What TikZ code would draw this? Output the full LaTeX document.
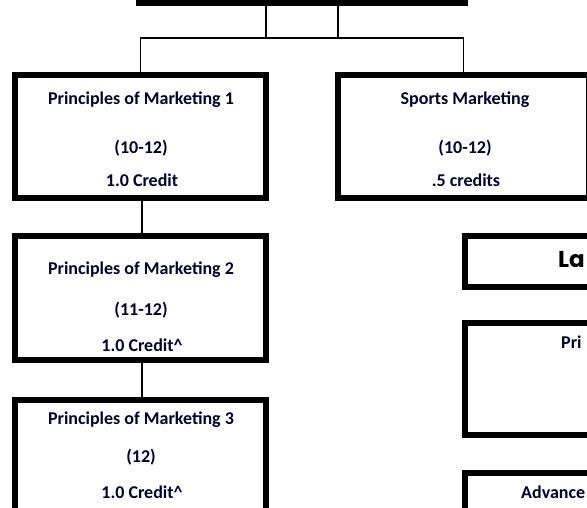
\documentclass[tikz,border=0pt]{standalone}
\usepackage{fontspec}
\setmainfont{Carlito}
\newfontfamily\headfont{Poppins}
\tikzset{
  box/.style={draw=black, line width=6pt, rectangle, inner sep=0pt, fill=white},
  conn/.style={draw=black, line width=1.3pt},
  txt/.style={font=\bfseries\fontsize{18}{19}\selectfont, text=black!85!blue, inner sep=0pt, anchor=center},
  big/.style={font=\headfont\bfseries\fontsize{23}{24}\selectfont, text=black, inner sep=0pt}
}
\begin{document}
\begin{tikzpicture}[x=1pt,y=-1pt]
\path[use as bounding box, clip] (0,0) rectangle (587,508);
\fill[white] (0,0) rectangle (587,508);
% boxes
\node[box, minimum width=326pt, minimum height=63pt] (top) at (302,-28.5) {};
\node[box, minimum width=251pt, minimum height=123pt] (pm1) at (140.5,136.5) {};
\node[box, minimum width=251pt, minimum height=123pt] (sports) at (463.5,136.5) {};
\node[box, minimum width=251pt, minimum height=124pt] (pm2) at (140.5,298) {};
\node[box, minimum width=251pt, minimum height=120pt] (pm3) at (140.5,460) {};
\node[box, minimum width=255pt, minimum height=51pt] (lab) at (592.5,261.5) {};
\node[box, minimum width=255pt, minimum height=112pt] (pri) at (592.5,379) {};
\node[box, minimum width=255pt, minimum height=87pt] (adv) at (592.5,516.5) {};
% connectors
\draw[conn] ([xshift=-36pt]top.south) -- ++(0,32) -| (sports.north);
\draw[conn] ([xshift=36pt]top.south) -- ++(0,32) -| (pm1.north);
\draw[conn] ([xshift=1.5pt]pm1.south) -- ([xshift=1.5pt]pm2.north);
\draw[conn] ([xshift=1.5pt]pm2.south) -- ([xshift=1.5pt]pm3.north);
% texts
\node[txt] (t1a) at (141,100) {Principles of Marketing 1};
\node[txt] (t1b) at (141,148) {(10-12)};
\node[txt] (t1c) at (142,180) {1.0 Credit};
\node[txt] (tsa) at (465,100) {Sports Marketing};
\node[txt] (tsb) at (465,148) {(10-12)};
\node[txt] (tsc) at (466,180) {.5 credits};
\node[txt] (t2a) at (141,270) {Principles of Marketing 2};
\node[txt] (t2b) at (141,310) {(11-12)};
\node[txt] (t2c) at (142,345) {1.0 Credit\^{}};
\node[txt] (t3a) at (141,420) {Principles of Marketing 3};
\node[txt] (t3b) at (141,457) {(12)};
\node[txt] (t3c) at (142,492) {1.0 Credit\^{}};
\node[big, anchor=west] (tla) at (558,260) {La};
\node[txt, anchor=west] (tpri) at (561,342) {Pri};
\node[txt, anchor=west] (tadv) at (521,492) {Advance};
\end{tikzpicture}
\end{document}
